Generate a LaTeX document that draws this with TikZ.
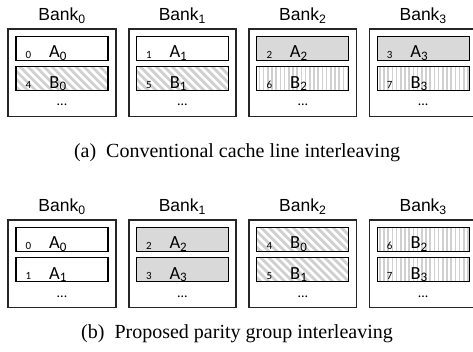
\documentclass[tikz,border=0pt]{standalone}
\usepackage{fontspec}
\setmainfont{Liberation Serif}
\newfontfamily\labelfont{Carlito}
\newfontfamily\titlefont{Liberation Sans}
\definecolor{cellgray}{HTML}{D9D9D9}
\definecolor{stripegray}{HTML}{D0D0D0}
\definecolor{framegray}{HTML}{262626}

% one cell of a bank: name, x, y, fill style, row number, label
\newcommand\bankcell[6]{%
  \node[cell,#4] (#1) at (#2,#3) {};
  \node[numlbl] (#1-num) at ([xshift=-33.5pt,yshift=2.5pt]#1.south) {#5};
  \node[celllbl] (#1-lbl) at ([xshift=-4pt,yshift=3.3pt]#1.south) {#6};
}
% a bank frame with its title and the trailing dots: name, x, title baseline, index
\newcommand\bankframe[4]{%
  \node[banklbl] (#1-title) at (#2,#3) {Bank\textsubscript{#4}};
  \node[bankbox] (#1) at (#2,#3+52) {};
  \node[dotslbl] (#1-dots) at (#2,#3+85.3) {...};
}

\begin{document}
\begin{tikzpicture}[x=1pt,y=-1pt,
  bankbox/.style={draw=framegray,line width=1.7pt,minimum width=107.5pt,minimum height=87.5pt,inner sep=0pt},
  cell/.style={draw=black,line width=1.2pt,minimum width=92pt,minimum height=24pt,inner sep=0pt},
  plain/.style={},
  grayfill/.style={fill=cellgray},
  diagfill/.style={path picture={
      \foreach \k in {-40,-32,...,104}
        \draw[stripegray,line width=2.8pt]
          ([xshift=\k pt,yshift=4pt]path picture bounding box.north west) -- ++(34pt,-34pt);}},
  vertfill/.style={path picture={
      \foreach \k in {2.5,6.7,...,92}
        \draw[stripegray,line width=1.6pt]
          ([xshift=\k pt]path picture bounding box.north west) -- ([xshift=\k pt]path picture bounding box.south west);}},
  banklbl/.style={font=\titlefont\fontsize{17.5}{21}\selectfont,anchor=base,inner sep=0pt},
  celllbl/.style={font=\labelfont\fontsize{18.5}{20}\selectfont,anchor=base,inner sep=0pt},
  numlbl/.style={font=\labelfont\fontsize{11}{12}\selectfont,anchor=base,inner sep=0pt},
  dotslbl/.style={font=\labelfont\fontsize{14}{14}\selectfont,anchor=base,inner sep=0pt},
  captionlbl/.style={font=\fontsize{20}{24}\selectfont,inner sep=0pt}
]
\useasboundingbox (0,0) rectangle (473,352);

% (a) conventional interleaving
\bankframe{ta0}{62}{20.7}{0}
\bankframe{ta1}{182.4}{20.7}{1}
\bankframe{ta2}{302.8}{20.7}{2}
\bankframe{ta3}{423.2}{20.7}{3}
\bankcell{ta0r0}{62}{48.25}{plain}{0}{A\textsubscript{0}}
\bankcell{ta0r1}{62}{78.75}{diagfill}{4}{B\textsubscript{0}}
\bankcell{ta1r0}{182.4}{48.25}{plain}{1}{A\textsubscript{1}}
\bankcell{ta1r1}{182.4}{78.75}{diagfill}{5}{B\textsubscript{1}}
\bankcell{ta2r0}{302.8}{48.25}{grayfill}{2}{A\textsubscript{2}}
\bankcell{ta2r1}{302.8}{78.75}{vertfill}{6}{B\textsubscript{2}}
\bankcell{ta3r0}{423.2}{48.25}{grayfill}{3}{A\textsubscript{3}}
\bankcell{ta3r1}{423.2}{78.75}{vertfill}{7}{B\textsubscript{3}}
\node[captionlbl] (capa) at (237,153) {(a)~~Conventional cache line interleaving};

% (b) parity group interleaving
\bankframe{tb0}{62}{211.7}{0}
\bankframe{tb1}{182.4}{211.7}{1}
\bankframe{tb2}{302.8}{211.7}{2}
\bankframe{tb3}{423.2}{211.7}{3}
\bankcell{tb0r0}{62}{239.25}{plain}{0}{A\textsubscript{0}}
\bankcell{tb0r1}{62}{269.75}{plain}{1}{A\textsubscript{1}}
\bankcell{tb1r0}{182.4}{239.25}{grayfill}{2}{A\textsubscript{2}}
\bankcell{tb1r1}{182.4}{269.75}{grayfill}{3}{A\textsubscript{3}}
\bankcell{tb2r0}{302.8}{239.25}{diagfill}{4}{B\textsubscript{0}}
\bankcell{tb2r1}{302.8}{269.75}{diagfill}{5}{B\textsubscript{1}}
\bankcell{tb3r0}{423.2}{239.25}{vertfill}{6}{B\textsubscript{2}}
\bankcell{tb3r1}{423.2}{269.75}{vertfill}{7}{B\textsubscript{3}}
\node[captionlbl] (capb) at (237,334) {(b)~~Proposed parity group interleaving};
\end{tikzpicture}
\end{document}
